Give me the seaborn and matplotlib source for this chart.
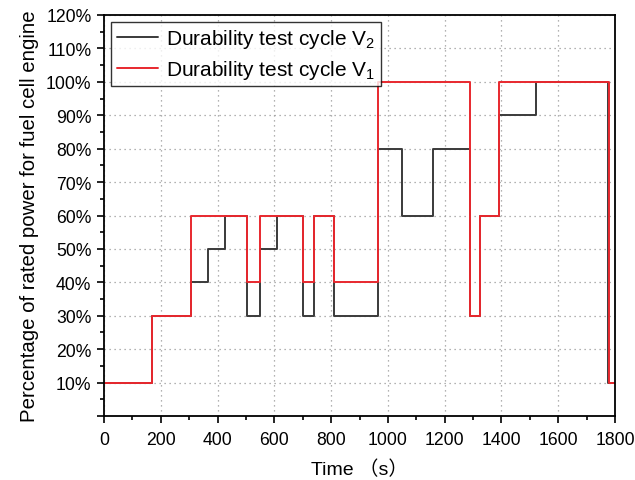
import matplotlib
matplotlib.use("Agg")
import matplotlib.pyplot as plt
import seaborn as sns
import pandas as pd
from matplotlib.ticker import MultipleLocator, FuncFormatter

# V2 (black) step change times (s) and levels (%)
v2_time = [0, 170, 305, 365, 425, 505, 550, 610, 700, 740, 810, 965, 1050, 1160, 1290, 1325, 1390, 1520, 1775, 1800]
v2_power = [10, 30, 40, 50, 60, 30, 50, 60, 30, 60, 30, 80, 60, 80, 30, 60, 90, 100, 10, 10]

# V1 (red)
v1_time = [0, 170, 305, 505, 550, 700, 740, 810, 965, 1290, 1325, 1390, 1780, 1800]
v1_power = [10, 30, 60, 40, 60, 40, 60, 40, 100, 30, 60, 100, 10, 10]

labels = ["Durability test cycle V$_2$", "Durability test cycle V$_1$"]

sns.set_style("white")
plt.rcParams['font.family'] = ['Liberation Sans', 'Noto Sans CJK SC', 'DejaVu Sans']
plt.rcParams['mathtext.fontset'] = 'custom'
plt.rcParams['mathtext.rm'] = 'Liberation Sans'
plt.rcParams['mathtext.it'] = 'Liberation Sans'
plt.rcParams['text.color'] = 'black'
plt.rcParams['axes.labelcolor'] = 'black'
plt.rcParams['xtick.color'] = 'black'
plt.rcParams['ytick.color'] = 'black'

fig = plt.figure(figsize=(6.35, 4.81), dpi=100)
ax = fig.add_axes([104/635, 1-417/481, (615-104)/635, (417-16)/481])

df2 = pd.DataFrame({"t": v2_time, "p": v2_power})
df1 = pd.DataFrame({"t": v1_time, "p": v1_power})
sns.lineplot(data=df2, x="t", y="p", ax=ax, drawstyle="steps-post", estimator=None,
             color="#3a3a3a", lw=1.4, label=labels[0])
sns.lineplot(data=df1, x="t", y="p", ax=ax, drawstyle="steps-post", estimator=None,
             color="#e8282e", lw=1.4, label=labels[1])

ax.set_xlim(0, 1800)
ax.set_ylim(0, 120)
ax.xaxis.set_major_locator(MultipleLocator(200))
ax.xaxis.set_minor_locator(MultipleLocator(100))
ax.yaxis.set_major_locator(MultipleLocator(10))
ax.yaxis.set_minor_locator(MultipleLocator(5))
ax.yaxis.set_major_formatter(FuncFormatter(lambda v, p: "" if v == 0 else f"{int(round(v))}%"))

ax.tick_params(axis="both", which="major", direction="out", length=5, width=1.2, labelsize=12.7,
               colors="black", pad=4)
ax.tick_params(axis="x", which="major", pad=6)
ax.tick_params(axis="both", which="minor", direction="out", length=3, width=1.2, colors="black")
ax.tick_params(bottom=True, left=True, which="both")

ax.grid(True, which="major", linestyle=(0, (1, 3)), color="#999999", lw=0.9)
for s in ax.spines.values():
    s.set_visible(True)
    s.set_color("black")
    s.set_linewidth(1.3)

ax.set_xlabel("Time （s）", fontsize=14, labelpad=8, color="black")
ax.set_ylabel("Percentage of rated power for fuel cell engine", fontsize=14.7, labelpad=5, color="black")

leg = ax.legend(loc="upper left", fontsize=15, frameon=True, fancybox=False,
                edgecolor="black", handlelength=2.0, borderpad=0.25, labelspacing=0.35,
                handletextpad=0.4, borderaxespad=0.35)
leg.get_frame().set_linewidth(1.0)
for t in leg.get_texts():
    t.set_color("black")

fig.savefig("out.png", dpi=100)
